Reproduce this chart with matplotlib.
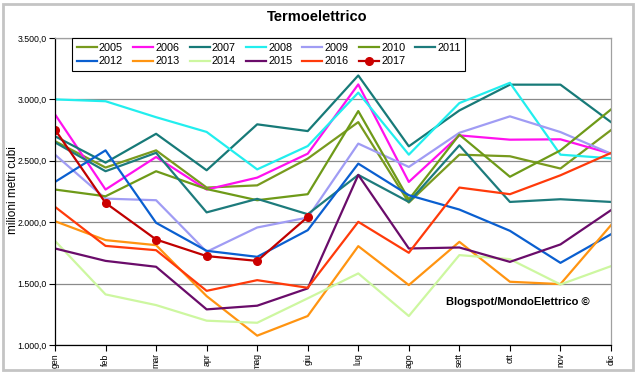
import matplotlib.pyplot as plt
from matplotlib.patches import Rectangle

plt.rcParams['font.family'] = ['Liberation Sans', 'DejaVu Sans']

mesi = ['gen', 'feb', 'mar', 'apr', 'mag', 'giu', 'lug', 'ago', 'sett', 'ott', 'nov', 'dic']

anni = ['2005', '2006', '2007', '2008', '2009', '2010', '2011',
        '2012', '2013', '2014', '2015', '2016', '2017']

v2005 = [2660, 2445, 2585, 2282, 2300, 2518, 2815, 2160, 2550, 2537, 2437, 2750]
v2006 = [2878, 2266, 2531, 2266, 2363, 2558, 3122, 2328, 2707, 2672, 2675, 2558]
v2007 = [2700, 2485, 2720, 2423, 2797, 2742, 3195, 2618, 2910, 3120, 3120, 2815]
v2008 = [3000, 2985, 2855, 2735, 2430, 2620, 3055, 2550, 2970, 3135, 2550, 2520]
v2009 = [2550, 2192, 2179, 1759, 1957, 2038, 2640, 2450, 2728, 2862, 2734, 2558]
v2010 = [2266, 2211, 2415, 2270, 2179, 2228, 2905, 2185, 2713, 2370, 2585, 2918]
v2011 = [2650, 2415, 2565, 2080, 2190, 2065, 2385, 2165, 2626, 2165, 2187, 2165]
v2012 = [2328, 2585, 1995, 1767, 1718, 1935, 2477, 2220, 2103, 1930, 1669, 1902]
v2013 = [2008, 1854, 1813, 1398, 1076, 1236, 1805, 1488, 1840, 1515, 1496, 1976]
v2014 = [1848, 1412, 1325, 1198, 1181, 1380, 1583, 1236, 1732, 1699, 1493, 1642]
v2015 = [1786, 1685, 1637, 1290, 1320, 1461, 2385, 1786, 1794, 1677, 1819, 2098]
v2016 = [2125, 1807, 1772, 1441, 1528, 1466, 2003, 1751, 2282, 2228, 2382, 2564]
v2017 = [2754, 2157, 1859, 1724, 1685, 2043]

serie = [v2005, v2006, v2007, v2008, v2009, v2010, v2011,
         v2012, v2013, v2014, v2015, v2016, v2017]

colori = ['#789a1e', '#ff11ee', '#177a78', '#22eeee', '#a09cf4', '#6e9a18', '#1d7b7c',
          '#0a5fd0', '#ff9411', '#cdf7a0', '#6a0c6a', '#ff3a0a', '#c00000']

fig = plt.figure(figsize=(6.4, 3.73), dpi=100)
ax = fig.add_axes([55/640, 1 - 345/373, 556/640, 307/373])

x = list(range(len(mesi)))
linee = []
for nome, val, col in zip(anni, serie, colori):
    if nome == '2017':
        l, = ax.plot(x[:len(val)], val, color=col, lw=1.6, marker='o', ms=5.5,
                     markerfacecolor='#cc0000', markeredgecolor='#cc0000', label=nome)
    else:
        l, = ax.plot(x[:len(val)], val, color=col, lw=1.6, label=nome)
    linee.append(l)

ax.set_xlim(0, 11)
ax.set_ylim(1000, 3500)
ax.set_yticks(range(1000, 3501, 500))
ax.set_yticklabels([f'{v // 1000}.{v % 1000:03d},0' for v in range(1000, 3501, 500)])
ax.set_xticks(x)
ax.set_xticklabels(mesi, rotation=90)
ax.tick_params(axis='both', labelsize=6.3, length=4, width=0.8, pad=2, colors='black')
ax.yaxis.grid(True, color='#8a8a8a', lw=0.9)
ax.set_axisbelow(True)

for s in ['top', 'right']:
    ax.spines[s].set_color('#a0a0a0')
    ax.spines[s].set_linewidth(0.9)
for s in ['left', 'bottom']:
    ax.spines[s].set_color('black')
    ax.spines[s].set_linewidth(0.9)

# legenda riga per riga: matplotlib riempie per colonne
ordine = [0, 7, 1, 8, 2, 9, 3, 10, 4, 11, 5, 12, 6]
leg = ax.legend([linee[i] for i in ordine], [anni[i] for i in ordine],
                ncol=7, loc='upper left', bbox_to_anchor=(0.031, 0.999),
                fontsize=7.8, handlelength=1.85, handletextpad=0.2,
                columnspacing=0.93, labelspacing=0.35, borderpad=0.4,
                borderaxespad=0, fancybox=False, framealpha=1)
leg.get_frame().set_edgecolor('black')
leg.get_frame().set_linewidth(0.8)

fig.text(13/640, 1 - 190/373, 'milioni metri cubi', rotation=90, ha='center', va='center',
         fontsize=8.5)
fig.text(317/640, 1 - 17/373, 'Termoelettrico', ha='center', va='center',
         fontsize=10.5, fontweight='bold')
fig.text(518/640, 1 - 302/373, 'Blogspot/MondoElettrico ©', ha='center', va='center',
         fontsize=8, fontweight='bold')

fig.patches.append(Rectangle((3/640, 3/373), 630/640, 366/373, transform=fig.transFigure,
                             fill=False, edgecolor='#c4c4c4', lw=2))

fig.savefig('out.png', dpi=100)
